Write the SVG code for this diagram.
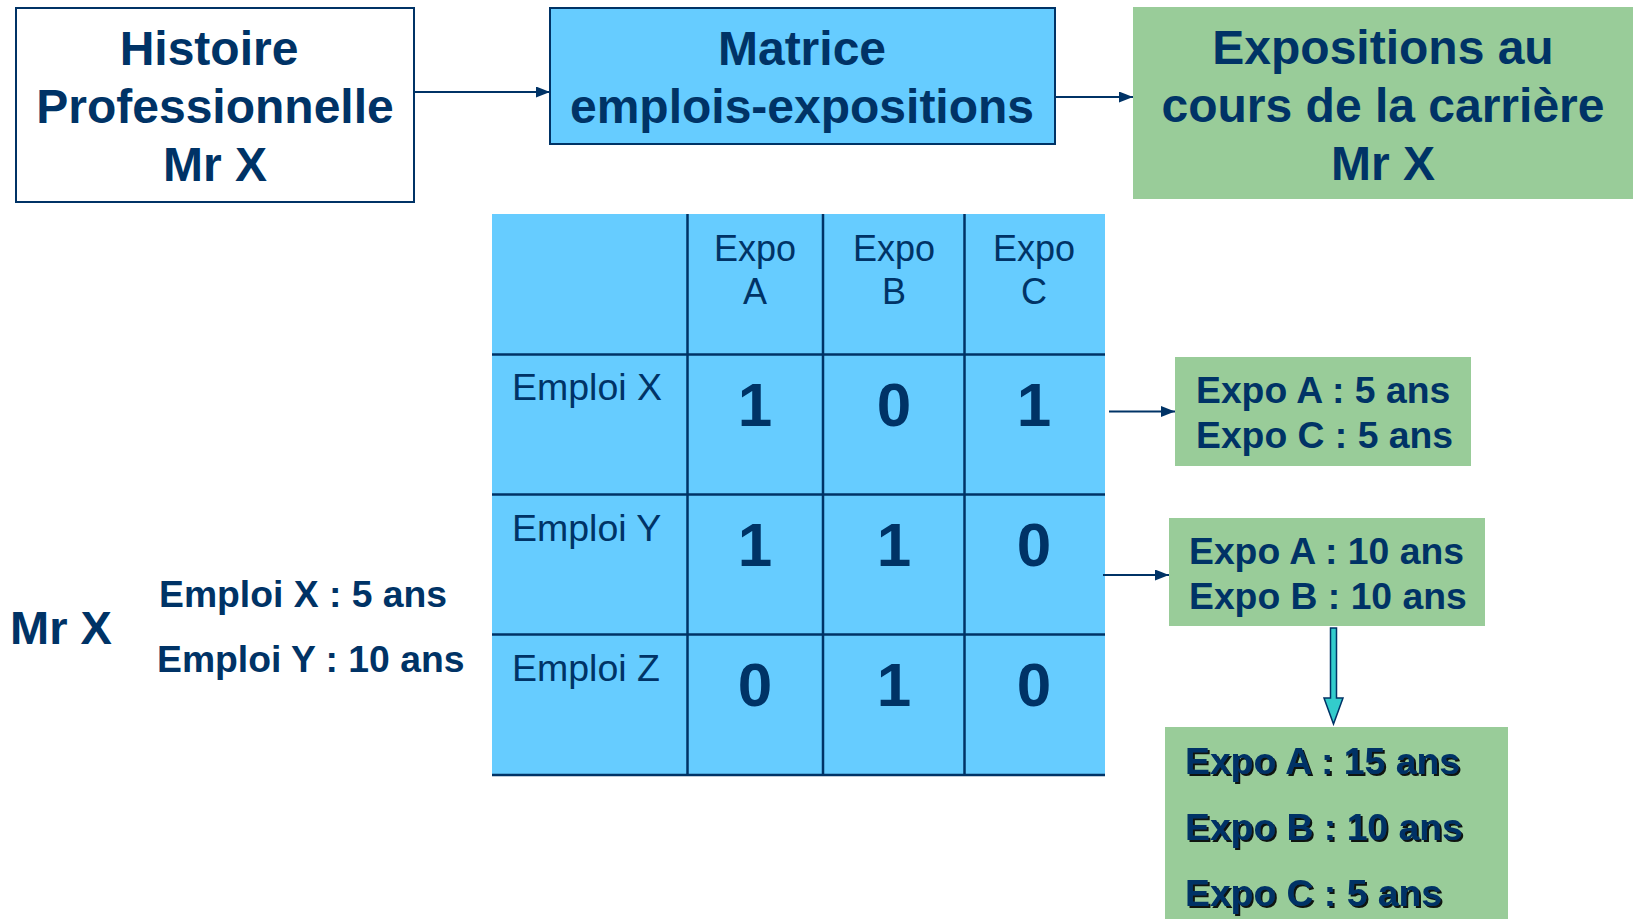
<svg xmlns="http://www.w3.org/2000/svg" width="1633" height="919" viewBox="0 0 1633 919">
<defs>
<marker id="ah" viewBox="0 0 14 11" refX="14" refY="5.5" markerWidth="14" markerHeight="11" markerUnits="userSpaceOnUse" orient="auto">
<path d="M0,0 L14,5.5 L0,11 Z" fill="#003366"/>
</marker>
<filter id="shadow" x="-5%" y="-20%" width="115%" height="150%">
<feDropShadow dx="2" dy="2" stdDeviation="0.4" flood-color="#000000" flood-opacity="0.9"/>
</filter>
</defs>
<style>
text{font-family:"Liberation Sans",Arial,sans-serif;fill:#003366}
.big{font-size:48px;font-weight:bold;text-anchor:middle}
.hdr{font-size:36px;text-anchor:middle}
.row{font-size:37.5px}
.num{font-size:62px;font-weight:bold;text-anchor:middle}
.res{font-size:37.3px;font-weight:bold}
.conn{stroke:#003366;stroke-width:2;fill:none}
.grid{stroke:#003366;stroke-width:2.5}
</style>
<rect width="1633" height="919" fill="#ffffff"/>

<g id="histoire">
<rect x="16" y="8" width="398" height="194" fill="#ffffff" stroke="#003366" stroke-width="2"/>
<text class="big" x="209" y="65">Histoire</text>
<text class="big" x="215" y="123">Professionnelle</text>
<text class="big" x="215" y="181">Mr X</text>
</g>

<g id="matrice">
<rect x="550" y="8" width="505" height="136" fill="#66CCFF" stroke="#003366" stroke-width="2"/>
<text class="big" x="802" y="65">Matrice</text>
<text class="big" x="802" y="123">emplois-expositions</text>
</g>

<g id="expositions">
<rect x="1133" y="7" width="500" height="192" fill="#99CC99"/>
<text class="big" x="1383" y="64">Expositions au</text>
<text class="big" x="1383" y="122">cours de la carrière</text>
<text class="big" x="1383" y="180">Mr X</text>
</g>

<g id="table">
<rect x="492" y="214" width="613" height="561" fill="#66CCFF"/>
<line class="grid" x1="687.5" y1="214" x2="687.5" y2="776"/>
<line class="grid" x1="823" y1="214" x2="823" y2="776"/>
<line class="grid" x1="964.5" y1="214" x2="964.5" y2="776"/>
<line class="grid" x1="492" y1="354.5" x2="1105" y2="354.5"/>
<line class="grid" x1="492" y1="494.5" x2="1105" y2="494.5"/>
<line class="grid" x1="492" y1="634.5" x2="1105" y2="634.5"/>
<line class="grid" x1="492" y1="775" x2="1105" y2="775"/>
<text class="hdr" x="755" y="261">Expo</text>
<text class="hdr" x="755" y="304">A</text>
<text class="hdr" x="894" y="261">Expo</text>
<text class="hdr" x="894" y="304">B</text>
<text class="hdr" x="1034" y="261">Expo</text>
<text class="hdr" x="1034" y="304">C</text>
<text class="row" x="512" y="400">Emploi X</text>
<text class="row" x="512" y="541">Emploi Y</text>
<text class="row" x="512" y="681">Emploi Z</text>
<text class="num" x="755" y="426">1</text>
<text class="num" x="894" y="426">0</text>
<text class="num" x="1034" y="426">1</text>
<text class="num" x="755" y="566">1</text>
<text class="num" x="894" y="566">1</text>
<text class="num" x="1034" y="566">0</text>
<text class="num" x="755" y="706">0</text>
<text class="num" x="894" y="706">1</text>
<text class="num" x="1034" y="706">0</text>
</g>

<g id="mrx">
<text x="10" y="644" style="font-size:47px;font-weight:bold">Mr X</text>
<text x="159" y="607" style="font-size:37.3px;font-weight:bold">Emploi X : 5 ans</text>
<text x="157" y="672" style="font-size:37.3px;font-weight:bold">Emploi Y : 10 ans</text>
</g>

<g id="resX">
<rect x="1175" y="357" width="296" height="109" fill="#99CC99"/>
<text class="res" x="1196" y="403">Expo A : 5 ans</text>
<text class="res" x="1196" y="448">Expo C : 5 ans</text>
</g>

<g id="resY">
<rect x="1169" y="518" width="316" height="108" fill="#99CC99"/>
<text class="res" x="1189" y="564">Expo A : 10 ans</text>
<text class="res" x="1189" y="609">Expo B : 10 ans</text>
</g>

<g id="total">
<rect x="1165" y="727" width="343" height="192" fill="#99CC99"/>
<g filter="url(#shadow)">
<text class="res" x="1185" y="774">Expo A : 15 ans</text>
<text class="res" x="1185" y="840">Expo B : 10 ans</text>
<text class="res" x="1185" y="906">Expo C : 5 ans</text>
</g>
</g>

<g id="connectors">
<line class="conn" x1="414" y1="92" x2="550" y2="92" marker-end="url(#ah)"/>
<line class="conn" x1="1055" y1="97" x2="1133" y2="97" marker-end="url(#ah)"/>
<line class="conn" x1="1109" y1="411.5" x2="1175" y2="411.5" marker-end="url(#ah)"/>
<line class="conn" x1="1103" y1="575" x2="1169" y2="575" marker-end="url(#ah)"/>
<path d="M1330.5,628 L1336.5,628 L1336.5,698 L1343,698 L1333.5,724 L1324,698 L1330.5,698 Z" fill="#33CCCC" stroke="#003366" stroke-width="1.5" stroke-linejoin="miter"/>
</g>
</svg>
